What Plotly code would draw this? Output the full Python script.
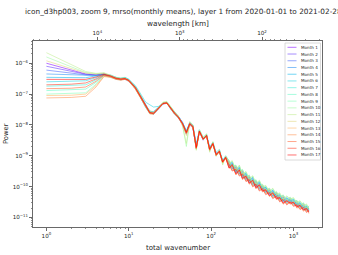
import math
import plotly.graph_objects as go

# ---------------- data ----------------
wavenumber = [1, 2, 3, 4, 5, 6, 7, 8, 9, 10, 12, 14, 16, 18, 20, 23, 26, 29, 32, 36,
              40, 45, 50, 55, 60, 66, 72, 80, 88, 96, 105, 115, 126, 138, 150,
              165, 180, 200, 220, 240, 265, 290, 320, 350, 385, 420, 460, 510, 560,
              620, 680, 750, 830, 910, 1000, 1100, 1200, 1320, 1440, 1535]

month_1 = [1.0e-6, 6.0e-7, 4.5e-7, 4.2e-7, 4.5e-7,
           3.9e-7, 3.3e-7, 2.9e-7, 3.1e-7, 2.9e-7, 1.7e-7, 8.3e-8, 4.2e-8, 2.6e-8, 2.3e-8,
           3.3e-8, 4.8e-8, 5.0e-8, 3.6e-8, 2.5e-8, 1.7e-8, 1.0e-8, 5.0e-9, 1.0e-8, 8.0e-9,
           1.9e-9, 6.0e-9, 3.2e-9, 4.8e-9, 1.5e-9, 2.7e-9, 1.0e-9, 1.5e-9, 6.0e-10, 9.5e-10,
           4.3e-10, 5.4e-10, 2.7e-10, 3.8e-10, 1.9e-10, 2.4e-10, 1.35e-10, 1.7e-10, 9.6e-11, 1.25e-10,
           7.6e-11, 8.5e-11, 5.4e-11, 6.8e-11, 4.3e-11, 4.8e-11, 3.1e-11, 3.8e-11, 3.1e-11, 3.4e-11,
           2.3e-11, 2.7e-11, 1.8e-11, 2.1e-11, 1.55e-11]
month_2 = [8.0e-7, 5.5e-7, 4.4e-7, 4.2e-7, 4.6e-7,
           3.7e-7, 3.1e-7, 3.0e-7, 3.3e-7, 2.7e-7, 1.5e-7, 7.5e-8, 3.8e-8, 2.4e-8, 2.5e-8,
           3.7e-8, 5.2e-8, 5.4e-8, 3.4e-8, 2.3e-8, 1.9e-8, 1.2e-8, 6.0e-9, 1.2e-8, 9.5e-9,
           2.0e-9, 6.6e-9, 3.8e-9, 4.2e-9, 1.7e-9, 2.4e-9, 1.2e-9, 1.3e-9, 6.8e-10, 8.5e-10,
           6.0e-10, 3.8e-10, 4.2e-10, 2.6e-10, 3.0e-10, 1.7e-10, 2.0e-10, 1.15e-10, 1.4e-10, 8.5e-11,
           1.0e-10, 6.5e-11, 7.5e-11, 4.8e-11, 5.8e-11, 3.8e-11, 4.5e-11, 3.0e-11, 3.8e-11, 2.7e-11,
           3.0e-11, 2.1e-11, 2.5e-11, 1.7e-11, 2.0e-11]
month_3 = [6.0e-7, 4.8e-7, 4.2e-7, 4.1e-7, 4.5e-7,
           4.0e-7, 3.4e-7, 3.1e-7, 3.0e-7, 2.6e-7, 1.6e-7, 8.5e-8, 4.4e-8, 2.8e-8, 2.6e-8,
           3.6e-8, 4.9e-8, 5.1e-8, 3.7e-8, 2.6e-8, 1.9e-8, 1.15e-8, 6.2e-9, 1.05e-8, 9.0e-9,
           2.2e-9, 6.0e-9, 3.6e-9, 4.4e-9, 1.8e-9, 2.6e-9, 1.15e-9, 1.45e-9, 6.6e-10, 9.0e-10,
           4.7e-10, 6.0e-10, 3.0e-10, 4.1e-10, 2.2e-10, 2.6e-10, 1.5e-10, 1.9e-10, 1.05e-10, 1.35e-10,
           8.3e-11, 9.5e-11, 6.0e-11, 7.4e-11, 4.7e-11, 5.3e-11, 3.4e-11, 4.2e-11, 3.3e-11, 3.7e-11,
           2.5e-11, 2.9e-11, 2.0e-11, 2.3e-11, 1.7e-11]
month_4 = [4.5e-7, 4.2e-7, 4.0e-7, 4.0e-7, 4.4e-7,
           3.6e-7, 3.3e-7, 3.1e-7, 3.1e-7, 2.9e-7, 1.8e-7, 9.0e-8, 4.6e-8, 2.7e-8, 2.2e-8,
           3.2e-8, 4.7e-8, 5.5e-8, 3.9e-8, 2.6e-8, 1.8e-8, 1.05e-8, 5.3e-9, 1.15e-8, 8.5e-9,
           1.7e-9, 6.5e-9, 3.4e-9, 4.6e-9, 1.55e-9, 2.5e-9, 1.05e-9, 1.4e-9, 6.1e-10, 9.2e-10,
           6.3e-10, 4.0e-10, 4.4e-10, 2.7e-10, 3.2e-10, 1.8e-10, 2.1e-10, 1.2e-10, 1.5e-10, 9.0e-11,
           1.05e-10, 6.8e-11, 7.9e-11, 5.0e-11, 6.1e-11, 4.0e-11, 4.7e-11, 3.2e-11, 4.0e-11, 2.8e-11,
           3.2e-11, 2.2e-11, 2.6e-11, 1.8e-11, 2.1e-11]
month_5 = [3.5e-7, 3.5e-7, 3.4e-7, 3.9e-7, 4.3e-7,
           3.9e-7, 3.3e-7, 3.2e-7, 3.4e-7, 3.0e-7, 1.7e-7, 8.0e-8, 4.1e-8, 2.7e-8, 2.7e-8,
           3.8e-8, 5.1e-8, 5.0e-8, 3.3e-8, 2.2e-8, 1.7e-8, 1.1e-8, 5.8e-9, 1.1e-8, 9.2e-9,
           1.9e-9, 6.4e-9, 3.5e-9, 4.5e-9, 1.6e-9, 2.6e-9, 1.1e-9, 1.4e-9, 6.4e-10, 8.8e-10,
           5.0e-10, 6.2e-10, 3.1e-10, 4.4e-10, 2.2e-10, 2.8e-10, 1.55e-10, 2.0e-10, 1.1e-10, 1.45e-10,
           8.7e-11, 9.8e-11, 6.2e-11, 7.8e-11, 5.0e-11, 5.5e-11, 3.5e-11, 4.4e-11, 3.5e-11, 3.9e-11,
           2.6e-11, 3.1e-11, 2.1e-11, 2.4e-11, 1.8e-11]
month_6 = [2.5e-7, 2.6e-7, 2.7e-7, 3.4e-7, 4.2e-7,
           4.2e-7, 3.5e-7, 3.3e-7, 3.5e-7, 3.0e-7, 1.9e-7, 1.0e-7, 5.5e-8, 4.5e-8, 3.8e-8,
           4.0e-8, 5.0e-8, 5.3e-8, 3.6e-8, 2.4e-8, 1.9e-8, 1.2e-8, 6.5e-9, 1.2e-8, 1.0e-8,
           2.4e-9, 7.0e-9, 3.9e-9, 5.0e-9, 1.9e-9, 2.8e-9, 1.3e-9, 1.6e-9, 7.2e-10, 1.0e-9,
           6.9e-10, 4.4e-10, 4.8e-10, 3.0e-10, 3.5e-10, 1.95e-10, 2.3e-10, 1.3e-10, 1.6e-10, 9.8e-11,
           1.15e-10, 7.5e-11, 8.6e-11, 5.5e-11, 6.7e-11, 4.4e-11, 5.2e-11, 3.5e-11, 4.4e-11, 3.1e-11,
           3.5e-11, 2.4e-11, 2.9e-11, 2.0e-11, 2.3e-11]
month_7 = [1.8e-7, 1.9e-7, 2.0e-7, 2.9e-7, 4.0e-7,
           3.8e-7, 3.2e-7, 3.1e-7, 3.3e-7, 2.8e-7, 1.55e-7, 7.7e-8, 3.9e-8, 2.5e-8, 2.4e-8,
           3.4e-8, 4.9e-8, 5.3e-8, 3.6e-8, 2.5e-8, 1.8e-8, 1.1e-8, 5.4e-9, 1.05e-8, 8.6e-9,
           1.7e-9, 6.1e-9, 3.3e-9, 4.4e-9, 1.5e-9, 2.4e-9, 1.05e-9, 1.35e-9, 6.0e-10, 8.6e-10,
           4.6e-10, 5.5e-10, 2.9e-10, 3.9e-10, 2.1e-10, 2.5e-10, 1.45e-10, 1.75e-10, 1.05e-10, 1.3e-10,
           8.0e-11, 9.0e-11, 5.8e-11, 7.0e-11, 4.6e-11, 5.0e-11, 3.3e-11, 3.9e-11, 3.3e-11, 3.5e-11,
           2.5e-11, 2.8e-11, 1.95e-11, 2.2e-11, 1.65e-11]
month_8 = [1.3e-7, 1.35e-7, 1.45e-7, 2.4e-7, 4.0e-7,
           3.5e-7, 3.0e-7, 2.9e-7, 3.1e-7, 2.7e-7, 1.5e-7, 7.4e-8, 3.7e-8, 2.3e-8, 2.3e-8,
           3.5e-8, 5.1e-8, 5.2e-8, 3.4e-8, 2.3e-8, 1.75e-8, 1.1e-8, 5.5e-9, 1.1e-8, 8.8e-9,
           1.8e-9, 6.2e-9, 3.5e-9, 4.4e-9, 1.6e-9, 2.5e-9, 1.1e-9, 1.4e-9, 6.3e-10, 8.8e-10,
           5.7e-10, 3.6e-10, 4.0e-10, 2.5e-10, 2.85e-10, 1.6e-10, 1.9e-10, 1.1e-10, 1.3e-10, 8.1e-11,
           9.5e-11, 6.2e-11, 7.1e-11, 4.6e-11, 5.5e-11, 3.6e-11, 4.3e-11, 2.85e-11, 3.6e-11, 2.6e-11,
           2.85e-11, 2.0e-11, 2.4e-11, 1.6e-11, 1.9e-11]
month_9 = [1.0e-7, 1.05e-7, 1.1e-7, 2.1e-7, 3.9e-7,
           3.7e-7, 3.2e-7, 3.0e-7, 3.2e-7, 2.8e-7, 1.6e-7, 8.0e-8, 4.0e-8, 2.5e-8, 2.4e-8,
           3.5e-8, 5.0e-8, 5.2e-8, 3.5e-8, 2.4e-8, 1.8e-8, 1.1e-8, 5.6e-9, 1.1e-8, 8.9e-9,
           1.8e-9, 6.3e-9, 3.5e-9, 4.5e-9, 1.6e-9, 2.5e-9, 1.1e-9, 1.4e-9, 6.3e-10, 8.9e-10,
           5.4e-10, 6.7e-10, 3.4e-10, 4.8e-10, 2.4e-10, 3.0e-10, 1.7e-10, 2.2e-10, 1.2e-10, 1.55e-10,
           9.5e-11, 1.05e-10, 6.7e-11, 8.5e-11, 5.4e-11, 6.0e-11, 3.8e-11, 4.8e-11, 3.8e-11, 4.2e-11,
           2.9e-11, 3.4e-11, 2.3e-11, 2.6e-11, 1.9e-11]
month_10 = [1.6e-6, 7.9e-7, 5.0e-7, 4.6e-7, 4.8e-7,
            4.0e-7, 3.4e-7, 3.2e-7, 3.3e-7, 2.8e-7, 1.7e-7, 8.5e-8, 4.2e-8, 2.7e-8, 2.5e-8,
            3.6e-8, 5.3e-8, 5.6e-8, 3.8e-8, 2.6e-8, 1.9e-8, 1.0e-8, 2.0e-9, 1.2e-8, 9.5e-9,
            1.6e-9, 6.8e-9, 3.8e-9, 4.9e-9, 1.4e-9, 2.7e-9, 1.0e-9, 1.5e-9, 5.5e-10, 9.5e-10,
            7.2e-10, 4.6e-10, 5.0e-10, 3.1e-10, 3.6e-10, 2.0e-10, 2.4e-10, 1.4e-10, 1.7e-10, 1.0e-10,
            1.2e-10, 7.8e-11, 9.0e-11, 5.8e-11, 7.0e-11, 4.6e-11, 5.4e-11, 3.6e-11, 4.6e-11, 3.2e-11,
            3.6e-11, 2.5e-11, 3.0e-11, 2.0e-11, 2.4e-11]
month_11 = [2.2e-6, 9.1e-7, 5.4e-7, 4.7e-7, 4.9e-7,
            4.1e-7, 3.5e-7, 3.3e-7, 3.4e-7, 2.9e-7, 1.8e-7, 9.0e-8, 4.5e-8, 2.9e-8, 2.6e-8,
            3.7e-8, 5.5e-8, 5.8e-8, 4.0e-8, 2.7e-8, 2.0e-8, 9.0e-9, 2.5e-9, 1.3e-8, 1.0e-8,
            1.5e-9, 7.0e-9, 4.0e-9, 5.2e-9, 1.3e-9, 2.9e-9, 9.5e-10, 1.6e-9, 5.0e-10, 1.0e-9,
            5.6e-10, 7.0e-10, 3.5e-10, 5.0e-10, 2.5e-10, 3.1e-10, 1.75e-10, 2.25e-10, 1.25e-10, 1.6e-10,
            9.9e-11, 1.1e-10, 7.0e-11, 8.9e-11, 5.6e-11, 6.3e-11, 4.0e-11, 5.0e-11, 4.0e-11, 4.4e-11,
            3.0e-11, 3.5e-11, 2.4e-11, 2.75e-11, 2.0e-11]
month_12 = [1.2e-6, 6.9e-7, 4.8e-7, 4.4e-7, 4.7e-7,
            3.9e-7, 3.3e-7, 3.1e-7, 3.2e-7, 2.8e-7, 1.6e-7, 8.1e-8, 4.1e-8, 2.6e-8, 2.5e-8,
            3.6e-8, 5.1e-8, 5.3e-8, 3.6e-8, 2.5e-8, 1.8e-8, 1.05e-8, 4.5e-9, 1.1e-8, 9.0e-9,
            1.7e-9, 6.4e-9, 3.6e-9, 4.6e-9, 1.5e-9, 2.6e-9, 1.05e-9, 1.45e-9, 6.0e-10, 9.0e-10,
            6.6e-10, 4.2e-10, 4.6e-10, 2.9e-10, 3.3e-10, 1.9e-10, 2.2e-10, 1.25e-10, 1.55e-10, 9.4e-11,
            1.1e-10, 7.2e-11, 8.3e-11, 5.3e-11, 6.4e-11, 4.2e-11, 5.0e-11, 3.3e-11, 4.2e-11, 3.0e-11,
            3.3e-11, 2.3e-11, 2.75e-11, 1.9e-11, 2.2e-11]
month_13 = [9.0e-8, 9.2e-8, 1.0e-7, 1.9e-7, 3.8e-7,
            3.6e-7, 3.1e-7, 2.9e-7, 3.1e-7, 2.7e-7, 1.5e-7, 7.6e-8, 3.8e-8, 2.4e-8, 2.3e-8,
            3.4e-8, 4.9e-8, 5.1e-8, 3.4e-8, 2.3e-8, 1.75e-8, 1.05e-8, 5.4e-9, 1.05e-8, 8.5e-9,
            1.8e-9, 6.0e-9, 3.4e-9, 4.3e-9, 1.55e-9, 2.4e-9, 1.05e-9, 1.35e-9, 6.1e-10, 8.5e-10,
            4.1e-10, 5.0e-10, 2.5e-10, 3.6e-10, 1.8e-10, 2.25e-10, 1.25e-10, 1.6e-10, 9.0e-11, 1.15e-10,
            7.1e-11, 8.0e-11, 5.0e-11, 6.4e-11, 4.1e-11, 4.5e-11, 2.9e-11, 3.6e-11, 2.9e-11, 3.15e-11,
            2.15e-11, 2.5e-11, 1.7e-11, 2.0e-11, 1.45e-11]
month_14 = [7.5e-8, 7.8e-8, 8.5e-8, 1.7e-7, 3.7e-7,
            3.5e-7, 3.0e-7, 2.8e-7, 3.0e-7, 2.6e-7, 1.45e-7, 7.2e-8, 3.6e-8, 2.3e-8, 2.2e-8,
            3.3e-8, 4.8e-8, 5.0e-8, 3.3e-8, 2.2e-8, 1.7e-8, 1.0e-8, 5.2e-9, 1.0e-8, 8.2e-9,
            1.7e-9, 5.8e-9, 3.3e-9, 4.2e-9, 1.5e-9, 2.3e-9, 1.0e-9, 1.3e-9, 5.9e-10, 8.2e-10,
            5.4e-10, 3.4e-10, 3.8e-10, 2.35e-10, 2.7e-10, 1.55e-10, 1.8e-10, 1.05e-10, 1.25e-10, 7.7e-11,
            9.0e-11, 5.9e-11, 6.8e-11, 4.3e-11, 5.2e-11, 3.4e-11, 4.0e-11, 2.7e-11, 3.4e-11, 2.4e-11,
            2.7e-11, 1.9e-11, 2.25e-11, 1.55e-11, 1.8e-11]
month_15 = [1.5e-7, 1.55e-7, 1.7e-7, 2.6e-7, 4.1e-7,
            3.7e-7, 3.1e-7, 3.0e-7, 3.2e-7, 2.7e-7, 1.55e-7, 7.8e-8, 3.9e-8, 2.4e-8, 2.3e-8,
            3.4e-8, 4.9e-8, 5.1e-8, 3.5e-8, 2.4e-8, 1.75e-8, 1.1e-8, 5.5e-9, 1.1e-8, 8.7e-9,
            1.75e-9, 6.2e-9, 3.4e-9, 4.4e-9, 1.55e-9, 2.45e-9, 1.05e-9, 1.4e-9, 6.2e-10, 8.7e-10,
            3.9e-10, 4.8e-10, 2.4e-10, 3.4e-10, 1.7e-10, 2.1e-10, 1.2e-10, 1.55e-10, 8.5e-11, 1.1e-10,
            6.7e-11, 7.6e-11, 4.8e-11, 6.0e-11, 3.8e-11, 4.3e-11, 2.7e-11, 3.4e-11, 2.7e-11, 3.0e-11,
            2.0e-11, 2.4e-11, 1.6e-11, 1.9e-11, 1.35e-11]
month_16 = [2.0e-7, 2.1e-7, 2.3e-7, 3.1e-7, 4.2e-7,
            3.8e-7, 3.2e-7, 3.0e-7, 3.1e-7, 2.8e-7, 1.6e-7, 7.9e-8, 4.0e-8, 2.5e-8, 2.4e-8,
            3.5e-8, 5.0e-8, 5.2e-8, 3.5e-8, 2.4e-8, 1.8e-8, 1.1e-8, 5.6e-9, 1.1e-8, 8.9e-9,
            1.8e-9, 6.3e-9, 3.5e-9, 4.5e-9, 1.6e-9, 2.5e-9, 1.1e-9, 1.4e-9, 6.3e-10, 8.9e-10,
            5.1e-10, 3.2e-10, 3.6e-10, 2.2e-10, 2.55e-10, 1.45e-10, 1.7e-10, 9.8e-11, 1.2e-10, 7.2e-11,
            8.5e-11, 5.5e-11, 6.4e-11, 4.1e-11, 4.9e-11, 3.2e-11, 3.8e-11, 2.55e-11, 3.2e-11, 2.3e-11,
            2.55e-11, 1.8e-11, 2.1e-11, 1.45e-11, 1.7e-11]
month_17 = [3.0e-7, 3.0e-7, 3.0e-7, 3.6e-7, 4.4e-7,
            3.9e-7, 3.3e-7, 3.1e-7, 3.2e-7, 2.8e-7, 1.65e-7, 8.2e-8, 4.1e-8, 2.5e-8, 2.4e-8,
            3.5e-8, 5.0e-8, 5.2e-8, 3.5e-8, 2.4e-8, 1.8e-8, 1.1e-8, 5.8e-9, 1.1e-8, 9.0e-9,
            1.9e-9, 6.2e-9, 3.5e-9, 4.6e-9, 1.65e-9, 2.5e-9, 1.1e-9, 1.4e-9, 6.4e-10, 8.8e-10,
            4.0e-10, 5.2e-10, 2.6e-10, 3.5e-10, 1.85e-10, 2.2e-10, 1.3e-10, 1.6e-10, 9.2e-11, 1.15e-10,
            7.2e-11, 7.9e-11, 5.1e-11, 6.3e-11, 4.1e-11, 4.4e-11, 2.9e-11, 3.5e-11, 2.9e-11, 3.1e-11,
            2.2e-11, 2.5e-11, 1.75e-11, 1.95e-11, 1.5e-11]

months = [month_1, month_2, month_3, month_4, month_5, month_6, month_7, month_8, month_9,
          month_10, month_11, month_12, month_13, month_14, month_15, month_16, month_17]
month_labels = ["Month %d" % (i + 1) for i in range(len(months))]

x_tick_vals = [1, 10, 100, 1000]
x_tick_text = ["10<sup>0</sup>", "10<sup>1</sup>", "10<sup>2</sup>", "10<sup>3</sup>"]
y_tick_vals = [1e-11, 1e-10, 1e-9, 1e-8, 1e-7, 1e-6]
y_tick_text = ["10<sup>−11</sup>", "10<sup>−10</sup>", "10<sup>−9</sup>",
               "10<sup>−8</sup>", "10<sup>−7</sup>", "10<sup>−6</sup>"]
wl_tick_vals = [1e4, 1e3, 1e2]
wl_tick_text = ["10<sup>4</sup>", "10<sup>3</sup>", "10<sup>2</sup>"]
circumference_km = 41500.0

title_text = "icon_d3hp003, zoom 9, mrso(monthly means), layer 1 from 2020-01-01 to 2021-02-28"

# ---------------- style / layout ----------------
W, H = 338, 255
L, R, T, B = 33, 16, 41, 28
PW, PH = W - L - R, H - T - B
X_RANGE = [-0.163, 3.346]
Y_RANGE = [-11.31, -5.278]
FONT = "DejaVu Sans"
TXT = "#262626"


def rainbow(t):
    r = min(1.0, abs(2 * t - 0.5))
    g = math.sin(math.pi * t)
    b = math.cos(math.pi * t / 2)
    return "rgb(%d,%d,%d)" % (round(r * 255), round(g * 255), round(b * 255))


def px(xp):
    return (xp - L) / PW


def py(yp):
    return (H - B - yp) / PH


colors = [rainbow(i / (len(months) - 1)) for i in range(len(months))]
OPAC = 0.55

fig = go.Figure()
for vals, col, name in zip(months, colors, month_labels):
    fig.add_trace(go.Scatter(x=wavenumber, y=vals, mode="lines", name=name,
                             line=dict(color=col, width=1), opacity=OPAC,
                             showlegend=False, hoverinfo="skip"))

# invisible trace so that the top (wavelength) axis is drawn
fig.add_trace(go.Scatter(x=[circumference_km / wavenumber[0], circumference_km / wavenumber[-1]],
                         y=[month_1[0], month_1[-1]], xaxis="x2", yaxis="y",
                         mode="markers", marker=dict(size=1, opacity=0),
                         showlegend=False, hoverinfo="skip"))


def minor_vals(lo, hi):
    out = []
    for d in range(lo, hi):
        for m in range(2, 10):
            out.append(m * 10.0 ** d)
    return out


axis_common = dict(showgrid=False, zeroline=False, showline=True, linecolor="#444",
                   linewidth=0.8, ticks="outside", ticklen=3, tickwidth=0.8,
                   tickcolor="#444", tickfont=dict(family=FONT, size=5.6, color=TXT))

fig.update_layout(
    width=W, height=H,
    margin=dict(l=L, r=R, t=T, b=B, pad=0),
    paper_bgcolor="white", plot_bgcolor="white",
    showlegend=False,
    xaxis=dict(type="log", range=X_RANGE, tickmode="array", tickvals=x_tick_vals,
               ticktext=x_tick_text,
               minor=dict(ticks="outside", ticklen=1.6, tickwidth=0.6, tickcolor="#444",
                          tickmode="array", tickvals=minor_vals(0, 4)),
               **axis_common),
    xaxis2=dict(type="log", overlaying="x", side="top", anchor="y",
                range=[math.log10(circumference_km) - X_RANGE[0],
                       math.log10(circumference_km) - X_RANGE[1]],
                tickmode="array", tickvals=wl_tick_vals, ticktext=wl_tick_text,
                minor=dict(ticks="outside", ticklen=1.6, tickwidth=0.6, tickcolor="#444",
                           tickmode="array", tickvals=minor_vals(1, 5)),
                **axis_common),
    yaxis=dict(type="log", range=Y_RANGE, tickmode="array", tickvals=y_tick_vals,
               ticktext=y_tick_text, mirror=True,
               minor=dict(ticks="outside", ticklen=1.6, tickwidth=0.6, tickcolor="#444",
                          tickmode="array", tickvals=minor_vals(-12, -5)),
               **axis_common),
)

annotations = [
    dict(text=title_text, x=px(23), y=py(12), xref="paper", yref="paper",
         xanchor="left", yanchor="middle", showarrow=False,
         font=dict(family=FONT, size=7.3, color=TXT)),
    dict(text="wavelength [km]", x=0.5, y=py(23), xref="paper", yref="paper",
         xanchor="center", yanchor="middle", showarrow=False,
         font=dict(family=FONT, size=7.3, color=TXT)),
    dict(text="total wavenumber", x=0.5, y=py(248), xref="paper", yref="paper",
         xanchor="center", yanchor="middle", showarrow=False,
         font=dict(family=FONT, size=7.0, color=TXT)),
    dict(text="Power", x=px(6), y=0.5, xref="paper", yref="paper", textangle=-90,
         xanchor="center", yanchor="middle", showarrow=False,
         font=dict(family=FONT, size=6.8, color=TXT)),
]

# legend, drawn by hand (plotly's legend rows cannot be this compact)
shapes = [dict(type="rect", xref="paper", yref="paper", x0=px(285), x1=px(320.5),
               y0=py(43), y1=py(160), line=dict(color="#d0d0d0", width=0.8),
               fillcolor="rgba(255,255,255,0.8)", layer="above")]
for i, (col, name) in enumerate(zip(colors, month_labels)):
    yy = 47.3 + 6.73 * i
    shapes.append(dict(type="line", xref="paper", yref="paper", x0=px(287.5), x1=px(296.5),
                       y0=py(yy), y1=py(yy), line=dict(color=col, width=1),
                       opacity=OPAC, layer="above"))
    annotations.append(dict(text=name, x=px(299), y=py(yy), xref="paper", yref="paper",
                            xanchor="left", yanchor="middle", showarrow=False,
                            font=dict(family=FONT, size=4.1, color=TXT)))

fig.update_layout(annotations=annotations, shapes=shapes)
fig.write_html("out.html", config={"displayModeBar": False, "staticPlot": True},
               post_script="document.body.style.margin='0';document.body.style.padding='0';")
